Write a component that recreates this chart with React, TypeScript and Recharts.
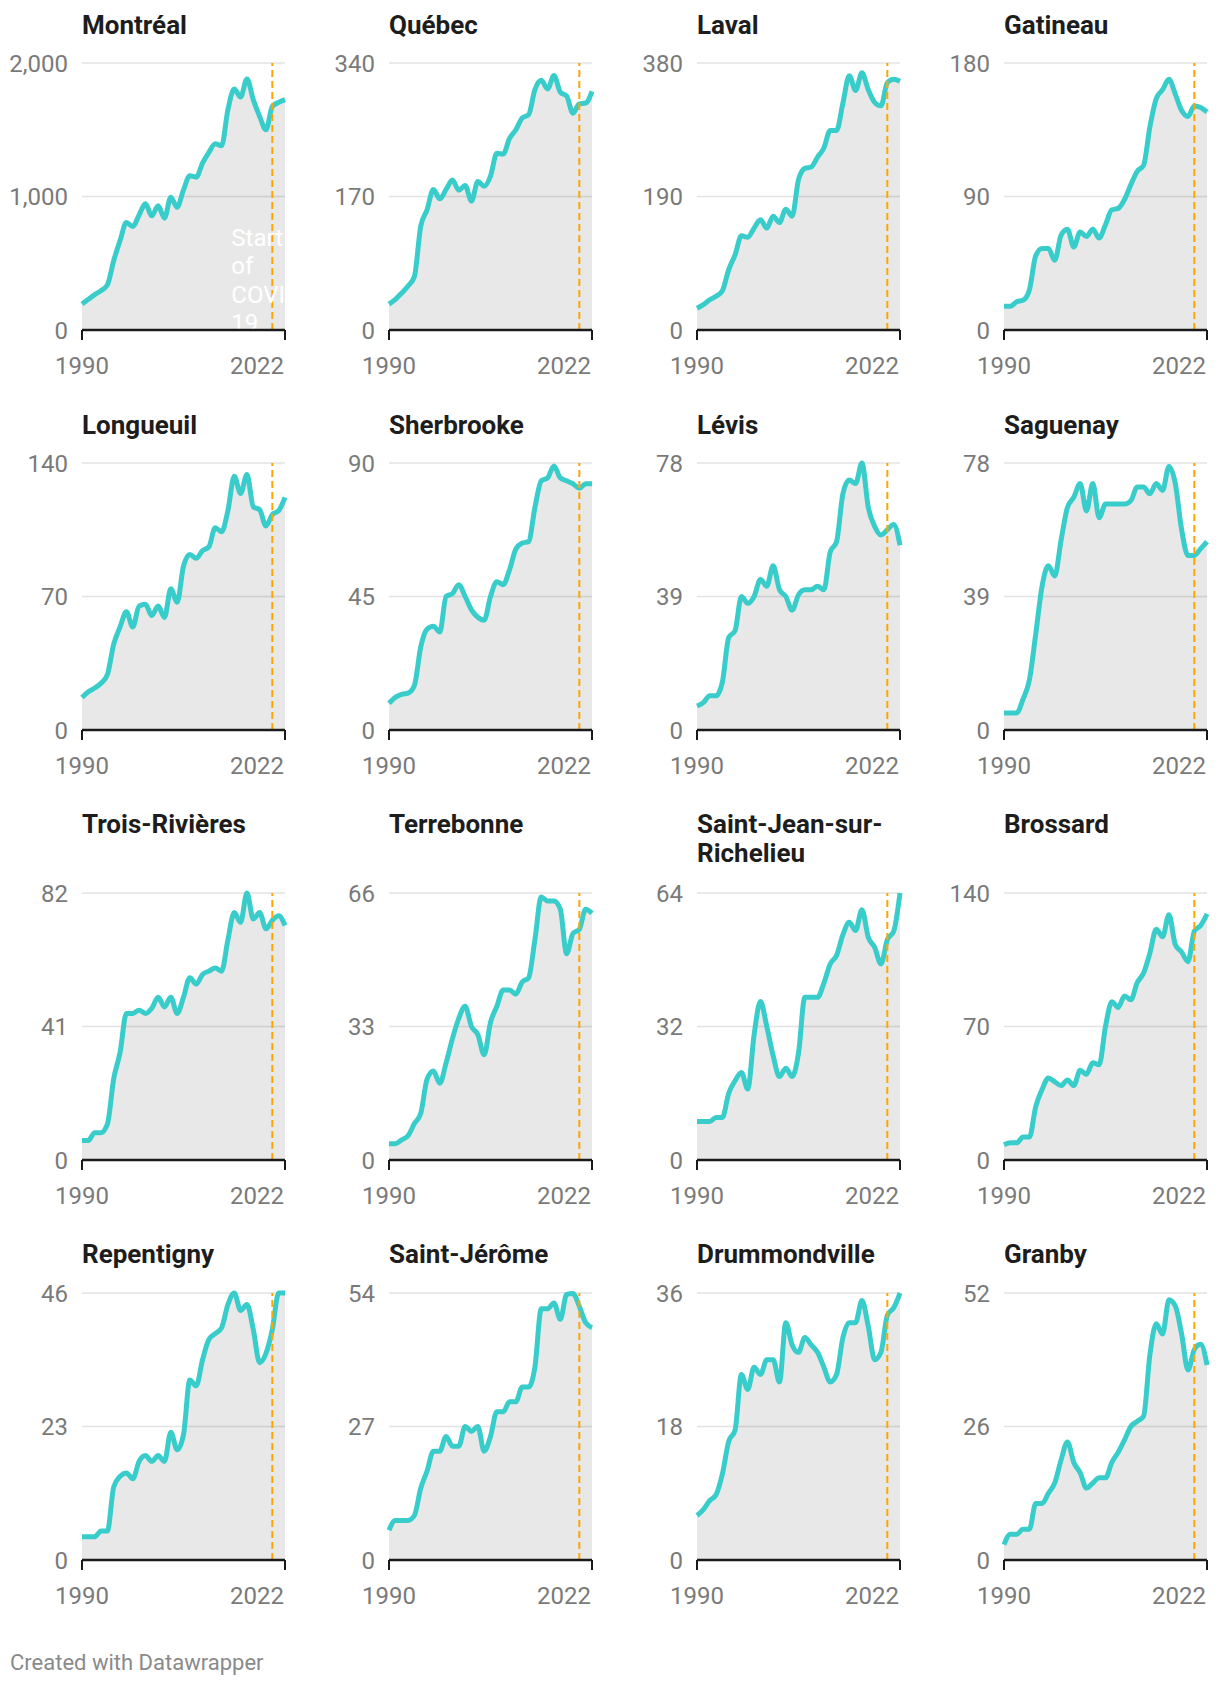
import { AreaChart, Area, XAxis, YAxis, CartesianGrid, ReferenceLine } from 'recharts'

// yearly values, 1990 to 2022
const years = [
  1990, 1991, 1992, 1993, 1994, 1995, 1996, 1997, 1998, 1999, 2000, 2001, 2002, 2003, 2004, 2005,
  2006, 2007, 2008, 2009, 2010, 2011, 2012, 2013, 2014, 2015, 2016, 2017, 2018, 2019, 2020, 2021, 2022,
]

const montreal = [195, 230, 265, 295, 338, 520, 670, 805, 775, 862, 945, 855, 930, 838, 995, 920, 1050, 1155, 1145, 1250, 1330, 1395, 1380, 1650, 1805, 1745, 1880, 1725, 1600, 1500, 1675, 1705, 1725]
const quebec = [33, 39, 47, 56, 68, 132, 153, 179, 167, 179, 191, 178, 184, 164, 189, 183, 196, 225, 224, 244, 255, 270, 274, 306, 318, 307, 324, 303, 298, 276, 288, 289, 304]
const laval = [31, 36, 43, 48, 56, 86, 107, 134, 132, 145, 157, 145, 162, 153, 172, 162, 214, 230, 232, 246, 259, 284, 284, 323, 362, 341, 366, 342, 324, 319, 352, 357, 354]
const gatineau = [16, 16, 19, 20, 27, 50, 55, 55, 47, 64, 68, 56, 66, 63, 68, 62, 71, 81, 82, 88, 98, 107, 111, 137, 156, 162, 169, 159, 148, 144, 151, 150, 147]
const longueuil = [17, 20, 22, 24.5, 29, 45, 54, 62, 54, 65, 66, 60, 65, 59, 74, 67, 86, 92, 90, 94, 96, 106, 104, 115, 133, 124, 134, 117, 115.5, 107, 113, 115, 122]
const sherbrooke = [9, 11, 12, 12.4, 15, 28, 34, 35, 33, 45, 46, 49, 45, 40.5, 38, 37, 45, 50, 49, 54, 61, 63, 63.5, 75, 84, 85, 89, 85, 84, 83, 81.5, 83, 83]
const levis = [7, 8, 10, 10, 14, 27, 29, 39, 37, 39, 44, 42, 48, 41, 39, 35, 39.5, 41, 41, 42, 41, 52, 55, 69, 73, 72, 78, 65, 59.5, 57, 58.5, 60, 54]
const saguenay = [5, 5, 5, 9, 14.6, 28, 42, 48, 45, 55.5, 65, 68, 72, 64, 72, 62, 66, 66, 66, 66, 67, 71, 71, 69, 72, 70, 77, 72, 58.5, 51, 51, 53, 55]
const troisRivieres = [6, 6, 8.4, 8.4, 11, 25, 33, 45, 45, 46, 45, 46.6, 50, 47, 50, 45, 50, 56, 54, 57, 58, 59, 58, 67.6, 76, 73, 82, 74, 76, 71, 73.6, 75, 72]
const terrebonne = [4, 4, 5, 6, 9, 11.5, 20, 22, 19, 24, 30, 35, 38, 33, 31, 26, 34, 38, 42, 42, 41, 44, 45, 54.5, 65, 64, 64, 62, 51, 56, 57, 62, 61]
const saintJean = [9.2, 9.2, 9.2, 10.2, 10.2, 16, 19, 21, 17, 30, 38, 32, 25, 20, 22, 20, 25.6, 39, 39, 39, 42.4, 47, 49, 54, 57, 55, 60, 53.4, 51, 47, 52.8, 54.8, 64]
const brossard = [8, 9, 9, 12, 12, 28, 37, 43, 41, 39, 42, 39, 47, 45, 51, 50, 70, 83, 80, 86, 84, 93, 98, 108.5, 121, 117, 128.6, 113, 109, 104, 120, 123, 129]
const repentigny = [4, 4, 4, 5, 5, 12.6, 14.4, 15, 14, 17, 18, 17, 18, 17, 22, 19, 21.6, 31, 30, 34.5, 38, 39, 40, 44, 46, 43, 44, 39.7, 34, 35.6, 39.7, 46, 46]
const saintJerome = [6, 8, 8, 8, 9, 14.5, 18, 22, 22, 25, 23, 23, 27, 26, 27, 22, 25, 30, 30, 32, 32, 35, 35, 39, 50.8, 50.8, 52, 48.7, 53.7, 53.9, 51.3, 48, 47]
const drummondville = [6, 6.8, 8, 8.8, 11.6, 16, 17.5, 25, 23, 26, 25, 27, 27, 24, 32, 29, 28, 30, 29, 28, 26, 24, 25, 30, 32, 32, 35, 31.5, 27, 28, 33, 34, 36]
const granby = [3, 5, 5, 6, 6, 11, 11, 13, 15, 19.5, 23, 19, 17, 14, 15, 16, 16, 19, 21, 23.4, 26, 27, 28, 40, 46, 44, 50.7, 49.5, 44, 37, 41, 42, 38]

const cityNames = [
  'Montréal', 'Québec', 'Laval', 'Gatineau',
  'Longueuil', 'Sherbrooke', 'Lévis', 'Saguenay',
  'Trois-Rivières', 'Terrebonne', 'Saint-Jean-sur-Richelieu', 'Brossard',
  'Repentigny', 'Saint-Jérôme', 'Drummondville', 'Granby',
]
const cityValues = [
  montreal, quebec, laval, gatineau,
  longueuil, sherbrooke, levis, saguenay,
  troisRivieres, terrebonne, saintJean, brossard,
  repentigny, saintJerome, drummondville, granby,
]
const yMax = [2000, 340, 380, 180, 140, 90, 78, 78, 82, 66, 64, 140, 46, 54, 36, 52]
const covidYear = 2020

// layout
const PLOT_LEFT = [82, 389, 697, 1004]
const PLOT_TOP = [63, 463, 893, 1293]
const TITLE_TOP = [11, 411, 810, 1240]
const PLOT_W = 203
const PLOT_H = 267
const Y_AXIS_W = 80
const X_AXIS_H = 52
const M_TOP = 20
const M_RIGHT = 14

const TEAL = '#38cdca'
const ORANGE = '#ffa500'
const TICK_GRAY = '#7a7a7a'
const FONT = 'Roboto, sans-serif'

const fmt = (v: number) => v.toLocaleString('en-US')

function YTick(props: any) {
  const { x, y, payload } = props
  return (
    <text x={x} y={y} dy="0.36em" textAnchor="end" fill={TICK_GRAY} fontSize={24} fontFamily={FONT}>
      {fmt(payload.value)}
    </text>
  )
}

function XTick(props: any) {
  const { x, y, payload } = props
  const last = payload.value === years[years.length - 1]
  return (
    <text x={last ? x - 1 : x} y={y} dy="0.71em" textAnchor={last ? 'end' : 'middle'} fill={TICK_GRAY} fontSize={24} fontFamily={FONT}>
      {payload.value}
    </text>
  )
}

function CovidNote(props: any) {
  const vb = props.viewBox || {}
  const x = (vb.x ?? 0) - 41
  const y0 = (vb.y ?? 0) + 183
  const lines = ['Start', 'of', 'COVID-', '19']
  return (
    <text fill="#ffffff" fontSize={24} fontFamily={FONT}>
      {lines.map((l, i) => (
        <tspan key={i} x={x} y={y0 + i * 28.4}>{l}</tspan>
      ))}
    </text>
  )
}

function Panel({ index }: { index: number }) {
  const col = index % 4
  const row = Math.floor(index / 4)
  const max = yMax[index]
  const data = years.map((year, i) => ({ year, value: cityValues[index][i] }))
  return (
    <>
      <div
        style={{
          position: 'absolute',
          left: PLOT_LEFT[col],
          top: TITLE_TOP[row],
          width: 215,
          fontFamily: FONT,
          fontWeight: 700,
          fontSize: 26,
          lineHeight: '29px',
          color: '#1d1d1d',
        }}
      >
        {cityNames[index]}
      </div>
      <div style={{ position: 'absolute', left: PLOT_LEFT[col] - Y_AXIS_W, top: PLOT_TOP[row] - M_TOP }}>
        <AreaChart
          width={Y_AXIS_W + PLOT_W + M_RIGHT}
          height={M_TOP + PLOT_H + X_AXIS_H}
          data={data}
          margin={{ top: M_TOP, right: M_RIGHT, left: 0, bottom: 0 }}
          style={{ overflow: 'visible' }}
        >
          <CartesianGrid vertical={false} stroke="#e3e3e3" strokeWidth={1.5} />
          <XAxis
            dataKey="year"
            type="number"
            domain={[1990, 2022]}
            ticks={[1990, 2022]}
            interval={0}
            height={X_AXIS_H}
            axisLine={{ stroke: '#1a1a1a', strokeWidth: 2.5 }}
            tickLine={{ stroke: '#1a1a1a', strokeWidth: 2 }}
            tickSize={10}
            tickMargin={17}
            tick={<XTick />}
          />
          <YAxis
            type="number"
            domain={[0, max]}
            ticks={[0, max / 2, max]}
            interval={0}
            width={Y_AXIS_W}
            axisLine={false}
            tickLine={false}
            tickSize={0}
            tickMargin={14}
            tick={<YTick />}
          />
          <Area
            type="monotone"
            dataKey="value"
            stroke={TEAL}
            strokeWidth={5}
            fill="#000000"
            fillOpacity={0.09}
            dot={false}
            activeDot={false}
            isAnimationActive={false}
          />
          <ReferenceLine
            x={covidYear}
            stroke={ORANGE}
            strokeWidth={2}
            strokeDasharray="7 4"
            label={index === 0 ? <CovidNote /> : undefined}
          />
        </AreaChart>
      </div>
    </>
  )
}

export default function App() {
  return (
    <div style={{ position: 'absolute', left: 0, top: 0, width: 1220, height: 1686, background: '#ffffff' }}>
      {cityNames.map((_, i) => (
        <Panel key={i} index={i} />
      ))}
      <div
        style={{
          position: 'absolute',
          left: 10,
          top: 1650,
          fontFamily: FONT,
          fontSize: 22,
          lineHeight: '26px',
          color: '#8a8a8a',
        }}
      >
        Created with Datawrapper
      </div>
    </div>
  )
}
